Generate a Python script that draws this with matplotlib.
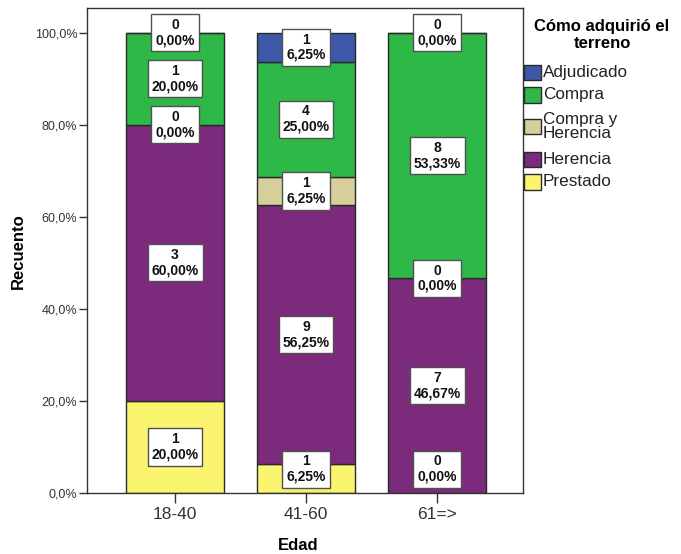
import matplotlib
matplotlib.use("Agg")
import matplotlib.pyplot as plt
import numpy as np
from matplotlib.patches import Rectangle

plt.rcParams['font.family'] = ['Liberation Sans', 'DejaVu Sans']

categories = ["18-40", "41-60", "61=>"]
series = ["Prestado", "Herencia", "Compra y\nHerencia", "Compra", "Adjudicado"]
counts = {
    "Prestado":           [1, 1, 0],
    "Herencia":           [3, 9, 7],
    "Compra y\nHerencia": [0, 1, 0],
    "Compra":             [1, 4, 8],
    "Adjudicado":         [0, 1, 0],
}
colors = {
    "Prestado": "#FAF46E",
    "Herencia": "#7B2A7C",
    "Compra y\nHerencia": "#D6CF9C",
    "Compra": "#2EB848",
    "Adjudicado": "#3D58A8",
}
yticks = [0, 20, 40, 60, 80, 100]
ytick_labels = ["0,0%", "20,0%", "40,0%", "60,0%", "80,0%", "100,0%"]
legend_title = "Cómo adquirió el\nterreno"
legend_order = ["Adjudicado", "Compra", "Compra y\nHerencia", "Herencia", "Prestado"]

W, H = 681, 554
fig = plt.figure(figsize=(W / 100, H / 100), dpi=100)
# axes in pixel coords: left 87, right 523, top 8, bottom 493
L, R, T, B = 87, 523, 8, 493
ax = fig.add_axes([L / W, 1 - B / H, (R - L) / W, (B - T) / H])

x = np.arange(len(categories))
totals = np.sum([counts[s] for s in series], axis=0)
bottom = np.zeros(len(categories))
edge = "#2a2a2a"
labels = []
for s in series:
    vals = np.array(counts[s], dtype=float)
    pct = vals / totals * 100
    ax.bar(x, pct, bottom=bottom, width=0.75, color=colors[s],
           edgecolor=edge, linewidth=1.0, zorder=2)
    for i in range(len(categories)):
        yc = bottom[i] + pct[i] / 2
        yc = max(yc, 5.2)
        labels.append((x[i], yc, f"{int(vals[i])}\n{pct[i]:.2f}%".replace(".", ",")))
    bottom += pct

for xi, yi, t in labels:
    ax.text(xi, yi, t, ha="center", va="center", fontsize=10, fontweight="bold",
            linespacing=1.12, zorder=5, color="#111111",
            bbox=dict(boxstyle="square,pad=0.28", facecolor="white",
                      edgecolor="#505050", linewidth=1.0))

ax.set_xlim(-0.672, 2.656)
ax.set_ylim(0, 105.4)
ax.set_xticks(x)
ax.set_xticklabels(categories, fontsize=12.5, color="#333333")
ax.set_yticks(yticks)
ax.set_yticklabels(ytick_labels, fontsize=9, color="#333333")
ax.tick_params(axis="y", length=6, width=1, color="#333333", pad=1)
ax.tick_params(axis="x", length=7, width=1, color="#333333", pad=3)
for sp in ax.spines.values():
    sp.set_color("#333333")
    sp.set_linewidth(1.0)

fig.text(298 / W, 1 - 545 / H, "Edad", ha="center", va="center",
         fontsize=12, fontweight="bold")
fig.text(18 / W, 1 - 251 / H, "Recuento", ha="center", va="center",
         rotation=90, fontsize=12, fontweight="bold")

# legend (manual)
fig.text(602 / W, 1 - 35 / H, legend_title, ha="center", va="center",
         fontsize=12, fontweight="bold", linespacing=1.22)
patch_y = {"Adjudicado": 72.5, "Compra": 95, "Compra y\nHerencia": 126.5,
           "Herencia": 159, "Prestado": 182}
for s in legend_order:
    yc = patch_y[s]
    fig.patches.append(Rectangle((524 / W, 1 - (yc + 7.5) / H), 17 / W, 15 / H,
                                 transform=fig.transFigure, facecolor=colors[s],
                                 edgecolor=edge, linewidth=1.0))
    fig.text(543 / W, 1 - yc / H, s, ha="left", va="center", fontsize=12.3,
             linespacing=0.95, color="#222222")

fig.savefig("out.png", dpi=100)
